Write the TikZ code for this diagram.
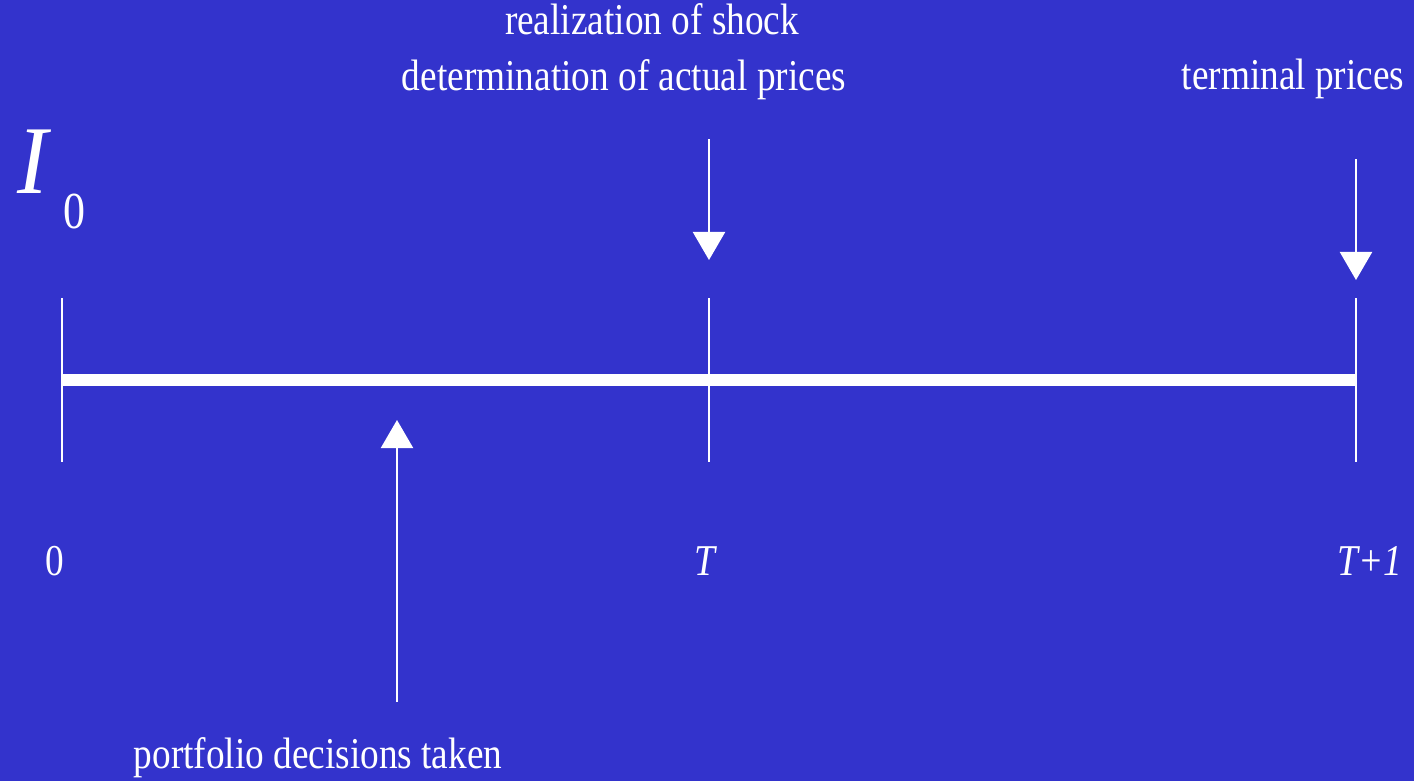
\documentclass[tikz,border=0pt]{standalone}
\usepackage{fontspec}
\setmainfont{Liberation Serif}
\usetikzlibrary{arrows.meta,positioning}
\definecolor{slideblue}{RGB}{51,51,204}

\begin{document}
\begin{tikzpicture}[x=0.01cm,y=-0.01cm,
    lbl/.style={text=white,font=\fontsize{10.6}{12}\selectfont,yscale=1.18,anchor=base,inner sep=0pt},
    tick/.style={draw=white,line width=0.6pt},
    event/.style={draw=white,line width=0.6pt,-{Triangle[width=0.32cm,length=0.28cm]}}]
        \def\ytop{298}
        \def\ybot{462}
        % Fondo
        \fill[slideblue] (0,0) rectangle (1414,781);
        % Eje de tiempo
        \coordinate (tzero) at (62,380);
        \coordinate (tT) at (709,380);
        \coordinate (tTone) at (1356,380);
        \draw[white,line width=3.6pt] (tzero) -- (tTone);
        \foreach \x in {62,709,1356}
          \draw[tick] (\x,\ytop) -- (\x,\ybot);
        % Rotulos de los instantes
        \node[lbl] (lzero) at (55,575) {0};
        \node[lbl,font=\itshape\fontsize{10.6}{12}\selectfont] (lT) at (705,575) {T};
        \node[lbl,font=\itshape\fontsize{10.6}{12}\selectfont] (lTone) at (1370,575) {T+1};
        % Informacion inicial
        \node[lbl,yscale=0.9,font=\itshape\fontsize{26}{30}\selectfont] (info) at (33,193) {I};
        \node[lbl,font=\fontsize{12.5}{15}\selectfont] (infosub) at (74,228) {0};
        % Eventos
        \node[lbl] (shock) at (652,34) {realization of shock};
        \node[lbl] (actual) at (624,90) {determination of actual prices};
        \node[lbl] (terminal) at (1293,89) {terminal prices};
        \node[lbl] (decide) at (318,768) {portfolio decisions taken};
        \coordinate (shockstart) at (709,139);
        \coordinate (shockend) at (709,260);
        \coordinate (termstart) at (1356,159);
        \coordinate (termend) at (1356,280);
        \coordinate (decstart) at (397,702);
        \coordinate (decend) at (397,420);
        \draw[event] (shockstart) -- (shockend);
        \draw[event] (termstart) -- (termend);
        \draw[event] (decstart) -- (decend);
      \end{tikzpicture}
\end{document}
